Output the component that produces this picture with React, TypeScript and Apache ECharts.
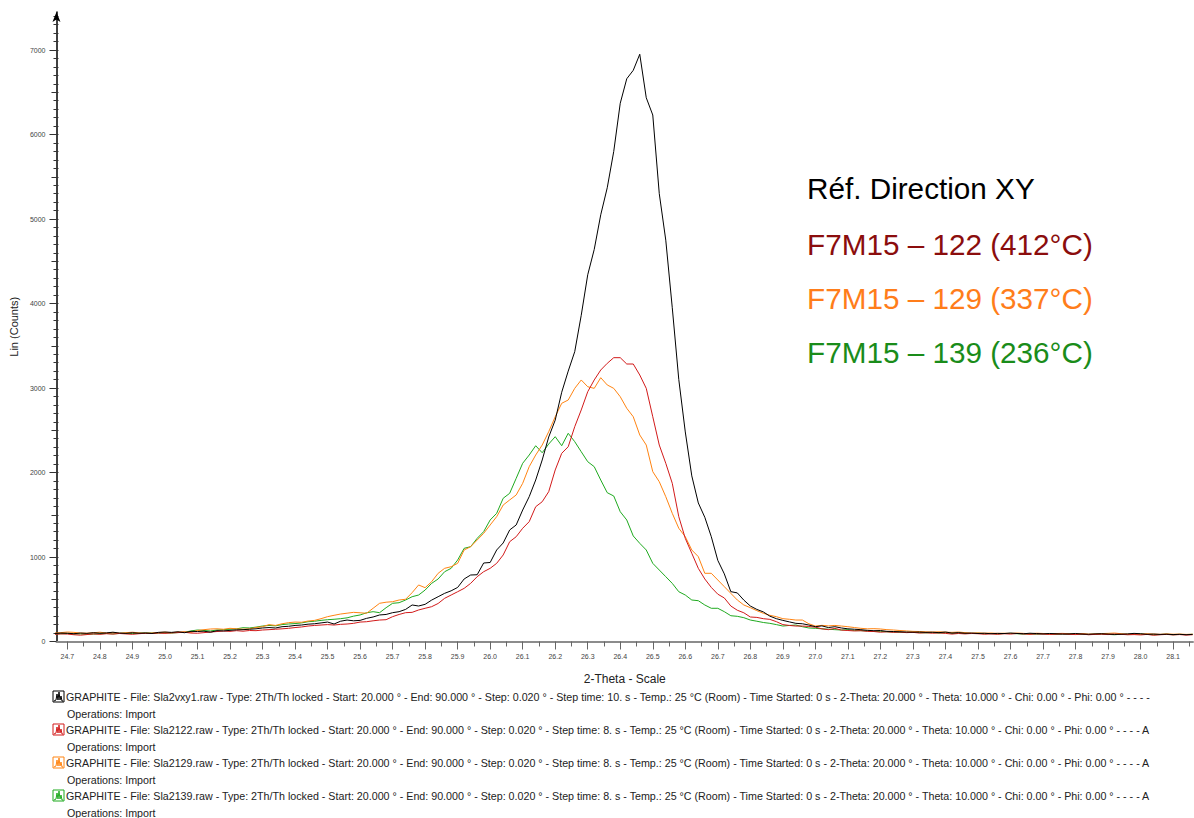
import React, { useEffect, useRef } from "react";
import * as echarts from "echarts";

// ---- data -------------------------------------------------------------
const X_START = 24.66;
const X_STEP = 0.02;

// Réf. Direction XY (black) — 24.66 … 28.16, step 0.02
const BLACK = [
  95, 100, 98, 92, 100, 96, 104, 98, 102, 110,
  100, 96, 104, 98, 100, 95, 108, 112, 108, 115,
  104, 120, 118, 122, 110, 128, 125, 132, 138, 140,
  145, 150, 160, 165, 160, 175, 180, 190, 195, 205,
  210, 220, 230, 207, 240, 254, 245, 250, 274, 290,
  314, 320, 341, 353, 380, 432, 420, 440, 490, 530,
  570, 600, 640, 740, 787, 790, 929, 935, 1083, 1166,
  1320, 1379, 1556, 1714, 1911, 2148, 2420, 2620, 2950, 3200,
  3430, 3860, 4340, 4640, 5050, 5370, 5800, 6370, 6660, 6760,
  6950, 6435, 6231, 5300, 4750, 3950, 3100, 2480, 1960, 1640,
  1470, 1240, 960, 800, 590, 575, 490, 420, 380, 350,
  300, 270, 250, 232, 215, 210, 195, 175, 185, 165,
  175, 160, 150, 145, 140, 132, 128, 130, 120, 118,
  115, 112, 110, 112, 108, 110, 105, 112, 100, 105,
  98, 100, 95, 98, 92, 96, 94, 100, 95, 92,
  98, 94, 90, 95, 92, 88, 90, 95, 88, 86,
  90, 92, 88, 84, 86, 90, 96, 92, 85, 88,
  84, 86, 82, 85, 80, 84,
];

// F7M15 – 122 (red)
const RED = [
  85, 90, 88, 80, 75, 82, 90, 85, 92, 88,
  95, 90, 85, 92, 98, 95, 100, 96, 102, 105,
  110, 100, 98, 105, 112, 118, 124, 120, 128, 122,
  130, 128, 136, 140, 145, 150, 156, 165, 172, 183,
  190, 195, 200, 195, 203, 207, 215, 230, 234, 245,
  254, 258, 294, 320, 341, 345, 373, 393, 412, 450,
  511, 550, 589, 629, 688, 767, 826, 866, 925, 1024,
  1181, 1240, 1340, 1418, 1595, 1654, 1773, 2030, 2227, 2305,
  2542, 2740, 2956, 3095, 3213, 3292, 3359, 3359, 3284, 3284,
  3154, 2996, 2660, 2325, 2109, 1872, 1477, 1220, 1044, 866,
  740, 640, 560, 515, 420, 370, 340, 290, 285, 270,
  262, 235, 200, 190, 183, 183, 178, 170, 150, 140,
  155, 135, 130, 125, 128, 120, 118, 110, 115, 108,
  112, 105, 108, 100, 104, 98, 102, 96, 88, 95,
  90, 95, 92, 86, 90, 85, 92, 88, 95, 90,
  85, 90, 88, 84, 86, 90, 85, 82, 88, 80,
  84, 86, 82, 88, 85, 80, 82, 78, 84, 74,
  80, 84, 78, 82, 76, 80,
];

// F7M15 – 129 (orange)
const ORANGE = [
  100, 105, 112, 108, 100, 98, 104, 110, 100, 106,
  98, 104, 110, 102, 96, 100, 106, 110, 104, 112,
  115, 108, 130, 140, 148, 150, 145, 156, 150, 145,
  150, 165, 175, 200, 190, 210, 223, 230, 228, 242,
  250, 270, 294, 310, 325, 335, 345, 340, 334, 393,
  452, 465, 471, 491, 500, 578, 669, 637, 708, 807,
  866, 885, 925, 1083, 1122, 1201, 1280, 1379, 1477, 1615,
  1675, 1734, 1872, 2069, 2207, 2325, 2483, 2660, 2819, 2858,
  2996, 3095, 3015, 2996, 3122, 3036, 2996, 2897, 2760, 2660,
  2444, 2325, 2010, 1891, 1714, 1517, 1340, 1240, 1083, 1004,
  807, 807, 728, 649, 570, 491, 432, 400, 365, 334,
  310, 294, 270, 263, 254, 254, 210, 183, 191, 185,
  190, 183, 175, 165, 156, 150, 152, 148, 140, 136,
  130, 125, 120, 118, 115, 112, 115, 110, 108, 112,
  105, 100, 102, 98, 100, 96, 98, 95, 100, 96,
  92, 98, 95, 90, 94, 96, 92, 90, 94, 88,
  90, 94, 96, 100, 92, 88, 90, 86, 92, 88,
  85, 90, 86, 88, 84, 86,
];

// F7M15 – 139 (green)
const GREEN = [
  90, 92, 95, 88, 90, 85, 88, 92, 95, 90,
  96, 100, 94, 98, 102, 100, 98, 104, 100, 106,
  110, 125, 136, 130, 125, 136, 140, 145, 150, 163,
  160, 170, 183, 190, 185, 200, 207, 212, 220, 234,
  240, 250, 258, 263, 270, 280, 300, 314, 340, 353,
  341, 400, 452, 459, 491, 530, 550, 609, 688, 740,
  826, 866, 964, 1103, 1122, 1221, 1300, 1438, 1517, 1695,
  1754, 1931, 2109, 2207, 2317, 2234, 2337, 2424, 2317, 2464,
  2365, 2246, 2128, 2069, 1911, 1761, 1722, 1536, 1438, 1249,
  1162, 1083, 925, 846, 767, 688, 589, 550, 491, 483,
  432, 393, 393, 353, 305, 298, 282, 254, 240, 225,
  215, 200, 183, 190, 195, 175, 160, 156, 150, 145,
  140, 136, 140, 130, 128, 125, 118, 120, 115, 112,
  110, 108, 112, 105, 102, 106, 100, 104, 98, 100,
  96, 94, 98, 92, 95, 90, 94, 96, 92, 88,
  90, 86, 92, 88, 85, 90, 86, 84, 88, 82,
  85, 88, 84, 80, 86, 82, 85, 88, 84, 80,
  82, 86, 80, 84, 82, 85,
];

const SERIES_VALUES = [BLACK, RED, ORANGE, GREEN];
const SERIES_FILES = ["Sla2vxy1", "Sla2122", "Sla2129", "Sla2139"];
const SERIES_STEP_TIMES = ["10.", "8.", "8.", "8."];
const SERIES_TRAILERS = ["- - - -", "- - - - A", "- - - - A", "- - - - A"];
const SERIES_COLORS = ["#000000", "#d21a1a", "#ff8412", "#1faa1f"];

const ANNOTATIONS = [
  "Réf. Direction XY",
  "F7M15 – 122 (412°C)",
  "F7M15 – 129 (337°C)",
  "F7M15 – 139 (236°C)",
];
const ANNOTATION_COLORS = ["#000000", "#8b0d0d", "#ff7d1a", "#1a8c1a"];

const X_TICK_LABELS = [
  "24.7", "24.8", "24.9", "25.0", "25.1", "25.2", "25.3", "25.4", "25.5",
  "25.6", "25.7", "25.8", "25.9", "26.0", "26.1", "26.2", "26.3", "26.4",
  "26.5", "26.6", "26.7", "26.8", "26.9", "27.0", "27.1", "27.2", "27.3",
  "27.4", "27.5", "27.6", "27.7", "27.8", "27.9", "28.0", "28.1",
];
const Y_TICK_LABELS = [0, 1000, 2000, 3000, 4000, 5000, 6000, 7000];

// ---- layout constants -------------------------------------------------
const X_MIN = 24.6664;
const X_MAX = 28.1612;
const Y_MAX = 7450;
const FONT = '"Liberation Sans", Arial, Helvetica, sans-serif';
const ANNOT_Y = [188, 244, 298, 352];

export default function App() {
  const ref = useRef<HTMLDivElement | null>(null);

  useEffect(() => {
    document.body.style.margin = "0";
    if (!ref.current) return;
    const chart = echarts.init(ref.current, undefined, { renderer: "svg" });

    const xMajor = X_TICK_LABELS.map(Number);
    const xHalf = xMajor.map((v) => +(v + 0.05).toFixed(2)).filter((v) => v < X_MAX);
    const yHalf: number[] = [];
    const yMinor: number[] = [];
    const yAll: number[] = [];
    for (let v = 100; v < Y_MAX; v += 100) {
      yAll.push(v);
      if (v % 1000 === 0) continue;
      if (v % 500 === 0) yHalf.push(v);
      else yMinor.push(v);
    }

    const yBase = { type: "value", min: 0, max: Y_MAX, position: "left", splitLine: { show: false } };
    const xBase = { type: "value", min: X_MIN, max: X_MAX, position: "bottom", splitLine: { show: false } };

    const series = SERIES_VALUES.map((vals, s) => ({
      type: "line",
      name: SERIES_FILES[s],
      data: vals.map((v, i) => [+(X_START + i * X_STEP).toFixed(2), v]),
      showSymbol: false,
      symbol: "none",
      xAxisIndex: 0,
      yAxisIndex: 0,
      lineStyle: { color: SERIES_COLORS[s], width: 1 },
      itemStyle: { color: SERIES_COLORS[s] },
      z: 10 - s,
    }));

    const graphic: any[] = [];
    ANNOTATIONS.forEach((t, i) => {
      graphic.push({
        type: "text",
        x: 807,
        y: ANNOT_Y[i],
        style: {
          text: t,
          fill: ANNOTATION_COLORS[i],
          fontSize: 29.7,
          fontFamily: FONT,
          verticalAlign: "middle",
        },
      });
    });

    SERIES_FILES.forEach((f, i) => {
      const y = 697 + i * 33;
      const c = SERIES_COLORS[i];
      graphic.push({
        type: "group",
        x: 53,
        y: y - 6,
        children: [
          { type: "rect", shape: { x: 0, y: 0, width: 11, height: 11 }, style: { fill: "#fff", stroke: c, lineWidth: 1 } },
          {
            type: "polyline",
            shape: { points: [[1, 10], [3, 9], [4, 3], [5, 9], [6, 1], [7, 9], [8, 5], [9, 10], [10, 10]] },
            style: { stroke: c, lineWidth: 1, fill: "none" },
          },
        ],
      });
      const txt =
        `GRAPHITE - File: ${f}.raw - Type: 2Th/Th locked - Start: 20.000 ° - End: 90.000 ° - Step: 0.020 ° - ` +
        `Step time: ${SERIES_STEP_TIMES[i]} s - Temp.: 25 °C (Room) - Time Started: 0 s - 2-Theta: 20.000 ° - ` +
        `Theta: 10.000 ° - Chi: 0.00 ° - Phi: 0.00 ° ${SERIES_TRAILERS[i]}`;
      graphic.push({
        type: "text",
        x: 66,
        y,
        style: { text: txt, fill: "#222", fontSize: 10.7, fontFamily: FONT, verticalAlign: "middle" },
      });
      graphic.push({
        type: "text",
        x: 67,
        y: y + 16.5,
        style: { text: "Operations: Import", fill: "#222", fontSize: 10.7, fontFamily: FONT, verticalAlign: "middle" },
      });
    });

    chart.setOption({
      animation: false,
      backgroundColor: "#ffffff",
      textStyle: { fontFamily: FONT },
      grid: { left: 50, right: 1, top: 12, bottom: 176.5, containLabel: false },
      xAxis: [
        {
          ...xBase,
          name: "2-Theta - Scale",
          nameLocation: "middle",
          nameGap: 31,
          nameTextStyle: { fontSize: 12, color: "#222", fontFamily: FONT },
          axisLine: { show: true, onZero: false, lineStyle: { color: "#8c8c8c", width: 2 } },
          axisTick: { show: true, customValues: xMajor, length: 8, lineStyle: { color: "#666", width: 1 } },
          axisLabel: {
            customValues: xMajor,
            formatter: (v: number) => v.toFixed(1),
            fontSize: 7,
            color: "#444",
            margin: 11,
            fontFamily: FONT,
          },
        },
        {
          ...xBase,
          axisLine: { show: false, onZero: false },
          axisTick: { show: true, customValues: xHalf, length: 5, lineStyle: { color: "#666", width: 1 } },
          axisLabel: { show: false },
        },
      ],
      yAxis: [
        {
          ...yBase,
          name: "Lin (Counts)",
          nameLocation: "middle",
          nameGap: 30,
          nameTextStyle: { fontSize: 11, color: "#222", fontFamily: FONT },
          axisLine: {
            show: true,
            onZero: false,
            lineStyle: { color: "#000", width: 1.5 },
            symbol: ["none", "arrow"],
            symbolSize: [6, 10],
          },
          axisTick: { show: true, customValues: Y_TICK_LABELS, length: 7, lineStyle: { color: "#333", width: 1 } },
          axisLabel: {
            customValues: Y_TICK_LABELS,
            formatter: (v: number) => String(v),
            fontSize: 7,
            color: "#444",
            margin: 11,
            fontFamily: FONT,
          },
        },
        {
          ...yBase,
          axisLine: { show: false, onZero: false },
          axisTick: { show: true, customValues: yHalf, length: 5, lineStyle: { color: "#333", width: 1 } },
          axisLabel: { show: false },
        },
        {
          ...yBase,
          axisLine: { show: false, onZero: false },
          axisTick: { show: true, customValues: yMinor, length: 3, lineStyle: { color: "#333", width: 1 } },
          axisLabel: { show: false },
        },
        {
          ...yBase,
          axisLine: { show: false, onZero: false },
          axisTick: { show: true, inside: true, customValues: yAll, length: 2, lineStyle: { color: "#333", width: 1 } },
          axisLabel: { show: false },
        },
      ],
      series,
      graphic,
    });

    return () => chart.dispose();
  }, []);

  return <div ref={ref} style={{ width: 1194, height: 818 }} />;
}
